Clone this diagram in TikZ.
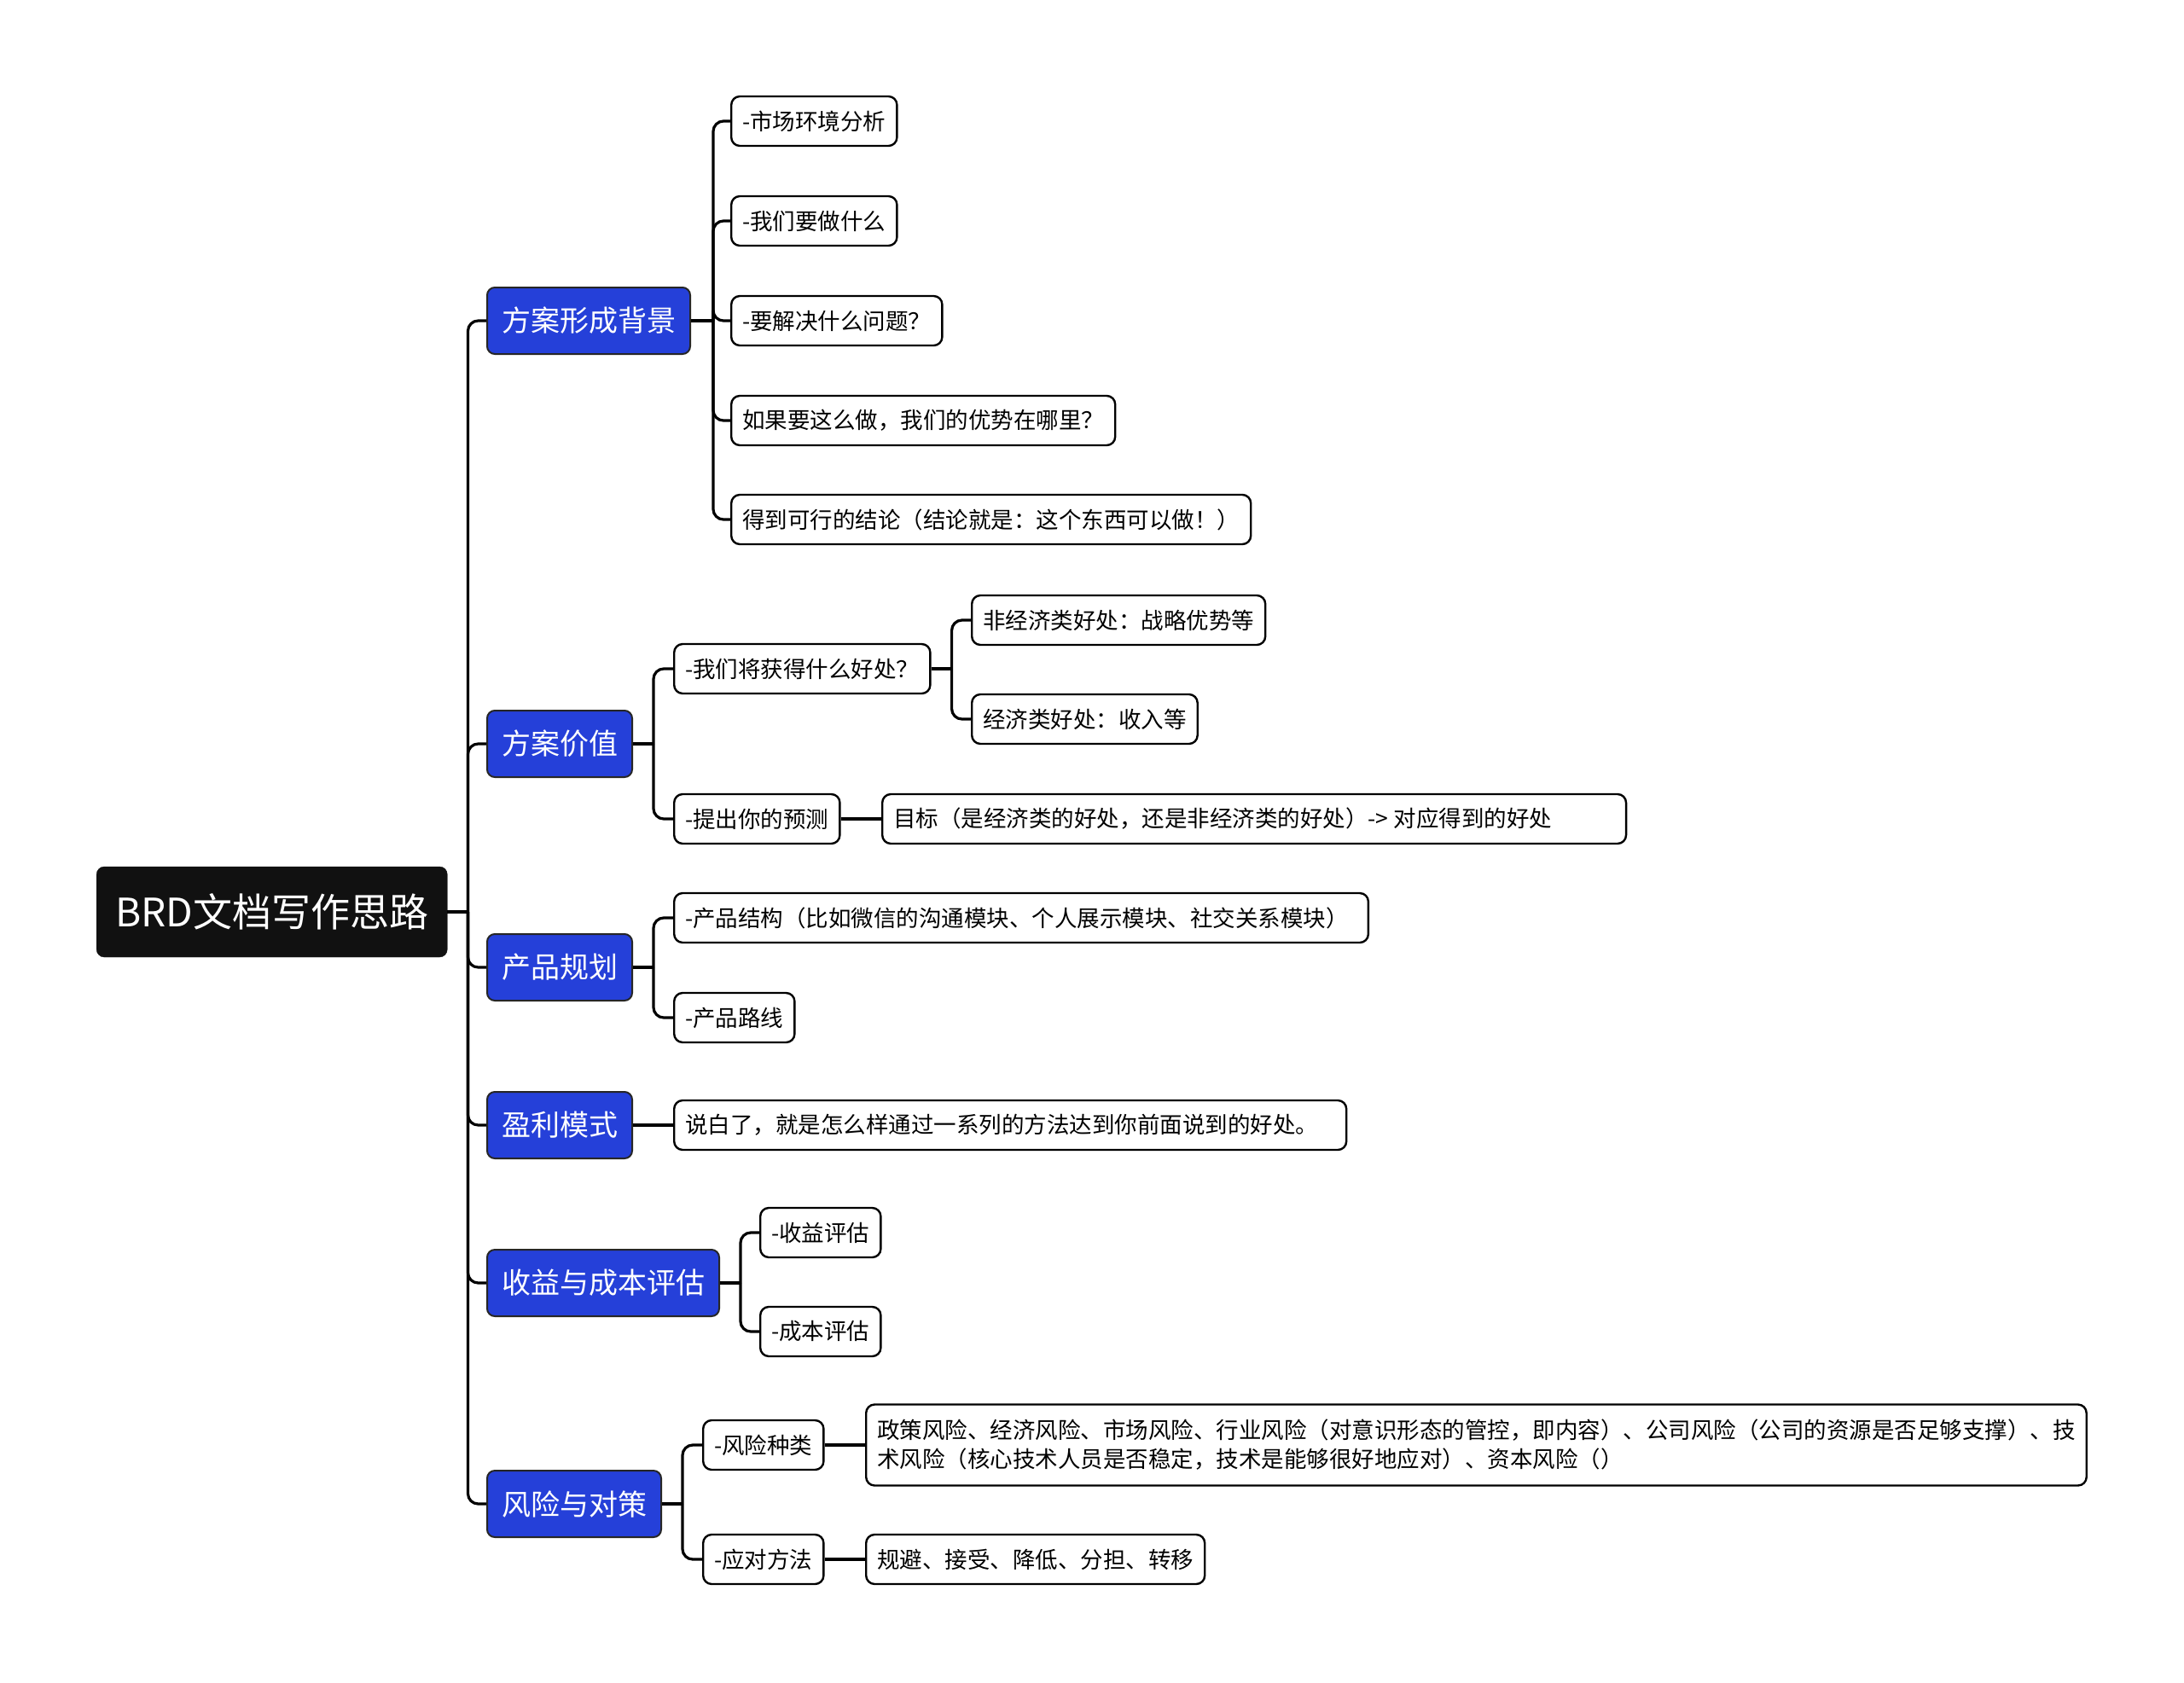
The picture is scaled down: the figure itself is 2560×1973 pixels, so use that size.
\documentclass[tikz,border=0pt]{standalone}
\usepackage{fontspec}
\setmainfont{Noto Sans CJK SC}
\usepackage{tikz}
\usetikzlibrary{positioning}
\definecolor{topicblue}{RGB}{37,64,217}
\definecolor{rootblack}{RGB}{17,17,17}

\begin{document}
\begin{tikzpicture}[
  x=1pt, y=-1pt,
  rootnode/.style={
    anchor=west,
    fill=rootblack,
    draw=rootblack,
    rounded corners=9pt,
    text=white,
    inner xsep=22pt,
    minimum height=106pt,
    font=\fontsize{46}{50}\selectfont
  },
  topic/.style={
    anchor=west,
    fill=topicblue,
    draw=black!85,
    line width=2pt,
    rounded corners=9pt,
    text=white,
    inner xsep=17pt,
    minimum height=78pt,
    font=\fontsize{34}{38}\selectfont
  },
  leaf/.style={
    anchor=west,
    fill=white,
    draw=black,
    line width=2.4pt,
    rounded corners=10pt,
    align=left,
    inner xsep=13pt,
    minimum height=58pt,
    font=\fontsize{26.5}{34}\selectfont
  },
  link/.style={line width=3.2pt, rounded corners=12pt}
]
  \fill[white] (0,0) rectangle (2560,1973);
  \useasboundingbox (0,0) rectangle (2560,1973);

  \node[rootnode] (root) at (113,1069) {BRD文档写作思路};

  \node[topic] (bg) at (570,376) {方案形成背景};
  \node[topic] (val) at (570,872) {方案价值};
  \node[topic] (plan) at (570,1134) {产品规划};
  \node[topic] (profit) at (570,1319) {盈利模式};
  \node[topic] (cost) at (570,1504) {收益与成本评估};
  \node[topic] (risk) at (570,1763) {风险与对策};

  \node[leaf] (bg1) at (856,142) {-市场环境分析};
  \node[leaf] (bg2) at (856,259) {-我们要做什么};
  \node[leaf] (bg3) at (856,376) {-要解决什么问题？};
  \node[leaf] (bg4) at (856,493) {如果要这么做，我们的优势在哪里？};
  \node[leaf] (bg5) at (856,609) {得到可行的结论（结论就是：这个东西可以做！）};

  \node[leaf] (gain) at (789,784) {-我们将获得什么好处？};
  \node[leaf] (gainA) at (1138,727) {非经济类好处：战略优势等};
  \node[leaf] (gainB) at (1138,843) {经济类好处：收入等};
  \node[leaf] (guess) at (789,960) {-提出你的预测};
  \node[leaf] (goal) at (1033,960) {目标（是经济类的好处，还是非经济类的好处）-> 对应得到的好处\hspace{74pt}};

  \node[leaf] (struct) at (789,1076) {-产品结构（比如微信的沟通模块、个人展示模块、社交关系模块）\hspace{10pt}};
  \node[leaf] (route) at (789,1193) {-产品路线};

  \node[leaf] (means) at (789,1319) {说白了，就是怎么样通过一系列的方法达到你前面说到的好处。\hspace{20pt}};

  \node[leaf] (income) at (890,1445) {-收益评估};
  \node[leaf] (expense) at (890,1561) {-成本评估};

  \node[leaf] (kinds) at (823,1694) {-风险种类};
  \node[leaf, minimum height=95pt] (kindlist) at (1014,1694)
    {政策风险、经济风险、市场风险、行业风险（对意识形态的管控，即内容）、公司风险（公司的资源是否足够支撑）、技\\
     术风险（核心技术人员是否稳定，技术是能够很好地应对）、资本风险（）};
  \node[leaf] (ways) at (823,1828) {-应对方法};
  \node[leaf] (waylist) at (1014,1828) {规避、接受、降低、分担、转移};

  \draw[link] (root.east) -- ++(24,0) coordinate (rootbus);
  \foreach \t in {bg,val,plan,profit,cost,risk}
    \draw[link] (rootbus) |- (\t.west);

  \draw[link] (bg.east) -- ++(26,0) coordinate (bgbus);
  \foreach \t in {bg1,bg2,bg3,bg4,bg5}
    \draw[link] (bgbus) |- (\t.west);

  \draw[link] (val.east) -- ++(24,0) coordinate (valbus);
  \draw[link] (valbus) |- (gain.west);
  \draw[link] (valbus) |- (guess.west);
  \draw[link] (gain.east) -- ++(24,0) coordinate (gainbus);
  \draw[link] (gainbus) |- (gainA.west);
  \draw[link] (gainbus) |- (gainB.west);
  \draw[link] (guess) -- (goal);

  \draw[link] (plan.east) -- ++(24,0) coordinate (planbus);
  \draw[link] (planbus) |- (struct.west);
  \draw[link] (planbus) |- (route.west);

  \draw[link] (profit) -- (means);

  \draw[link] (cost.east) -- ++(24,0) coordinate (costbus);
  \draw[link] (costbus) |- (income.west);
  \draw[link] (costbus) |- (expense.west);

  \draw[link] (risk.east) -- ++(24,0) coordinate (riskbus);
  \draw[link] (riskbus) |- (kinds.west);
  \draw[link] (riskbus) |- (ways.west);
  \draw[link] (kinds) -- (kindlist);
  \draw[link] (ways) -- (waylist);
\end{tikzpicture}
\end{document}
